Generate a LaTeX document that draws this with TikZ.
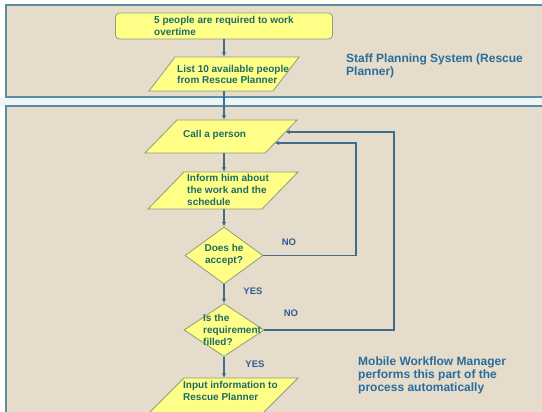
\documentclass[tikz,border=0pt]{standalone}
\usepackage{fontspec}
\setmainfont{Liberation Sans}
\usetikzlibrary{arrows.meta,shapes.geometric}
\definecolor{bgtan}{HTML}{E5DCCB}
\definecolor{panelline}{HTML}{5B8DA2}
\definecolor{gapblue}{HTML}{EEF5F7}
\definecolor{shapefill}{HTML}{FFFF88}
\definecolor{shapeline}{HTML}{8E9E78}
\definecolor{shapetext}{HTML}{1D6B68}
\definecolor{conn}{HTML}{3F6D8A}
\definecolor{labelblue}{HTML}{2D5E90}
\definecolor{sidetext}{HTML}{2A6C9C}
\begin{document}
\begin{tikzpicture}[x=1pt,y=-1pt,
  panel/.style={draw=panelline,line width=1.5pt,fill=bgtan},
  shapebox/.style={draw=shapeline,fill=shapefill,line width=0.8pt},
  anchorbox/.style={inner sep=0pt,minimum width=4pt},
  decision/.style={shape=diamond,draw=shapeline,fill=shapefill,line width=0.8pt,inner sep=0pt},
  shapetxt/.style={font=\fontsize{10}{12}\selectfont\bfseries,text=shapetext,inner sep=0pt,align=left,anchor=west},
  lbl/.style={font=\fontsize{9.5}{11}\selectfont\bfseries,text=labelblue,inner sep=0pt},
  sidetxt/.style={font=\fontsize{12}{13}\selectfont\bfseries,text=sidetext,inner sep=0pt,align=left,anchor=west},
  conline/.style={draw=conn,line width=1.1pt},
  arr/.style={conline,-{Latex[length=4.5pt,width=4.5pt]}}]
\useasboundingbox (0,0) rectangle (542,412);
\clip (0,0) rectangle (542,412);
\fill[white] (0,0) rectangle (542,412);
\fill[gapblue] (0,97) rectangle (542,106);
\draw[panel] (6,5) rectangle (560,97);
\draw[panel] (6,106) rectangle (560,430);

% shapes
\node[shapebox,rounded corners=4pt,minimum width=217pt,minimum height=26pt,inner sep=0pt] (topbox) at (224,26) {};

\draw[shapebox] (149,91) -- (273,91) -- (299,57) -- (175,57) -- cycle;
\node[anchorbox,minimum height=34pt] (list) at (224,74) {};

\draw[shapebox] (145,153) -- (265,153) -- (297,120) -- (177,120) -- cycle;
\node[anchorbox,minimum height=33pt] (call) at (224,136.5) {};

\draw[shapebox] (148,209) -- (262,209) -- (298,172) -- (184,172) -- cycle;
\node[anchorbox,minimum height=37pt] (inform) at (224,190.5) {};

\node[decision,minimum width=78pt,minimum height=57pt] (d1) at (224,255.5) {};
\node[decision,minimum width=80pt,minimum height=53pt] (d2) at (224,330) {};

\draw[shapebox] (148,414) -- (262,414) -- (298,378) -- (184,378) -- cycle;
\node[anchorbox,minimum height=36pt] (input) at (224,396) {};

% texts
\node[shapetxt] (t1) at (154,26) {5 people are required to work\\overtime};
\node[shapetxt,font=\fontsize{10}{11}\selectfont\bfseries] (t2) at (177,74) {List 10 available people\\from Rescue Planner};
\node[shapetxt] (t3) at (183,135) {Call a person};
\node[shapetxt] (t4) at (187,190) {Inform him about\\the work and the\\schedule};
\node[shapetxt,align=center,anchor=center] (t5) at (224,255) {Does he\\accept?};
\node[shapetxt] (t6) at (203,330) {Is the\\requirement\\filled?};
\node[shapetxt,font=\fontsize{10}{12.5}\selectfont\bfseries] (t7) at (183,391) {Input information to\\Rescue Planner};

\node[sidetxt] (staff) at (346,65.5) {Staff Planning System (Rescue\\Planner)};
\node[sidetxt] (mobile) at (358,375) {Mobile Workflow Manager\\performs this part of the\\process automatically};

\node[lbl] (no1) at (289,242) {NO};
\node[lbl] (no2) at (291,313) {NO};
\node[lbl] (yes1) at (253,291) {YES};
\node[lbl] (yes2) at (255,364) {YES};

% connectors
\coordinate (callin1) at (285.4,132);
\coordinate (callin2) at (274.7,143);
\draw[arr] (topbox.south) -- (list.north);
\draw[arr] (list.south) -- (call.north);
\draw[arr] (call.south) -- (inform.north);
\draw[arr] (inform.south) -- (d1.north);
\draw[arr] (d1.south) -- (d2.north);
\draw[arr] (d2.south) -- (input.north);
\draw[arr] (d1.east) -- (356,255.5) -- (356,143) -- (callin2);
\draw[arr] (d2.east) -- (394,330) -- (394,132) -- (callin1);
\end{tikzpicture}
\end{document}
